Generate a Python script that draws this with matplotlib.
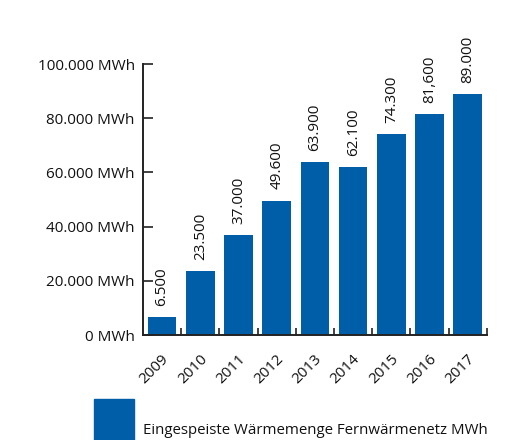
import matplotlib
matplotlib.use("Agg")
import matplotlib.pyplot as plt
from matplotlib.patches import Rectangle
import matplotlib.transforms as mtransforms

plt.rcParams["font.family"] = ["Open Sans", "DejaVu Sans"]

# Fernwärme data per year
years = ["2009", "2010", "2011", "2012", "2013", "2014", "2015", "2016", "2017"]
values = [6500, 23500, 37000, 49600, 63900, 62100, 74300, 81600, 89000]
value_labels = ["6.500", "23.500", "37.000", "49.600", "63.900", "62.100", "74.300", "81,600", "89.000"]
yticks = [0, 20000, 40000, 60000, 80000, 100000]
ytick_labels = ["0 MWh", "20.000 MWh", "40.000 MWh", "60.000 MWh", "80.000 MWh", "100.000 MWh"]
legend_label = "Eingespeiste Wärmemenge Fernwärmenetz MWh"

blue = "#005EA8"
axis_color = "#222222"
text_color = "#111111"

fig = plt.figure(figsize=(5.18, 4.40), dpi=100)
ax = fig.add_axes([0.276, 0.2386, 0.664, 0.6159])

x = list(range(len(years)))
ax.bar(x, values, width=0.75, color=blue)

for xi, v, lab in zip(x, values, value_labels):
    ax.annotate(lab, (xi, v), xytext=(0, 8), textcoords="offset points",
                rotation=90, ha="center", va="bottom", fontsize=11,
                color=text_color, annotation_clip=False)

ax.set_xlim(-0.5, len(years) - 0.5)
ax.set_ylim(0, 100000)

# y axis
ax.set_yticks(yticks)
ax.set_yticklabels(ytick_labels, fontsize=11, color=text_color)
ax.tick_params(axis="y", direction="in", length=7, width=1.2, color=axis_color, pad=6)

# x axis: ticks at category boundaries, labels under the bars
ax.set_xticks([i + 0.5 for i in x])
ax.set_xticklabels([])
ax.tick_params(axis="x", direction="in", length=5, width=1.2, color=axis_color)
offset = mtransforms.ScaledTranslation(10 / 100, 0, fig.dpi_scale_trans)
for xi, yr in zip(x, years):
    ax.text(xi, -0.06, yr, transform=ax.get_xaxis_transform() + offset,
            rotation=45, ha="right", va="top", fontsize=11, color=text_color)

for side in ["top", "right"]:
    ax.spines[side].set_visible(False)
for side in ["left", "bottom"]:
    ax.spines[side].set_color(axis_color)
    ax.spines[side].set_linewidth(1.4)

# legend swatch and text
fig.patches.append(Rectangle((94 / 518, 0), 40 / 518, 41 / 440,
                             transform=fig.transFigure, color=blue))
fig.text(143 / 518, 2 / 440, legend_label, fontsize=10.8, color=text_color,
         ha="left", va="bottom")

fig.savefig("out.png", dpi=100)
